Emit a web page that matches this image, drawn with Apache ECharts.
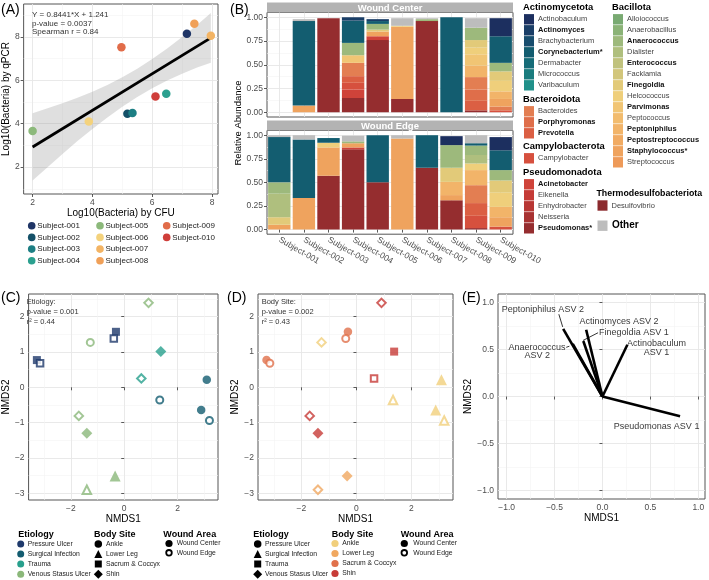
<!DOCTYPE html>
<html><head><meta charset="utf-8">
<script src="https://cdn.jsdelivr.net/npm/echarts@6.0.0/dist/echarts.min.js"></script>
<style>html,body{margin:0;padding:0;background:#fff;}#chart{width:709px;height:580px;}</style>
</head><body><div id="chart"></div>
<script>
// ================= DATA =================
// Panel A
const subjects = ['Subject-001','Subject-002','Subject-003','Subject-004','Subject-005','Subject-006','Subject-007','Subject-008','Subject-009','Subject-010'];
const subjectColors = ['#1f3566','#145068','#1d7f84','#2ba08f','#8cb97b','#f4d27c','#f3b464','#f0a058','#e16c49','#cf3e3a'];
const cfuLog  = [7.16, 5.17, 5.34, 6.47, 2.00, 3.88, 7.96, 7.41, 4.97, 6.11];
const qpcrLog = [8.15, 4.46, 4.50, 5.38, 3.66, 4.10, 8.06, 8.61, 7.53, 5.26];
const fitX = [2.00, 7.96];
const fitY = [2.93, 7.96];
const bandX     = [2.0, 2.5, 3.0, 3.5, 4.0, 4.5, 5.0, 5.5, 6.0, 6.5, 7.0, 7.5, 7.96];
const bandLower = [1.38, 1.99, 2.60, 3.20, 3.76, 4.29, 4.78, 5.23, 5.64, 5.99, 6.30, 6.59, 6.81];
const bandUpper = [4.48, 4.71, 4.94, 5.20, 5.48, 5.79, 6.14, 6.53, 6.98, 7.47, 8.00, 8.55, 9.11];
const statLines = ['Y = 0.8441*X + 1.241', 'p-value = 0.0037', 'Spearman r = 0.84'];

// Panel B — genus palette (legend order)
const genusNames  = ['Actinobaculum','Actinomyces','Brachybacterium','Corynebacterium','Dermabacter','Micrococcus','Varibaculum',
  'Bacteroides','Porphyromonas','Prevotella','Campylobacter',
  'Acinetobacter','Eikenella','Enhydrobacter','Neisseria','Pseudomonas','Desulfovibrio',
  'Alloiococcus','Anaerobacillus','Anaerococcus','Dialister','Enterococcus','Facklamia','Finegoldia','Helcococcus','Parvimonas','Peptococcus','Peptoniphilus','Peptostreptococcus','Staphylococcus','Streptococcus','Other'];
const genusColors = ['#1c2f5f','#1a3e67','#184d6e','#135d70','#166c78','#1a7c7e','#21918a',
  '#e37e52','#df6e4a','#db5f43','#d6503e',
  '#cf433a','#c53b37','#b83634','#a83232','#952d2f','#8b2a2d',
  '#79aa72','#8bb377','#9db97c','#afbf7e','#c0c27d','#d2c67b','#e2ca79','#efcf7b','#f1c574','#f2bc6e','#f2b469','#f1ab63','#efa35e','#ee9a59','#bdbdbd'];
const boldGenera = ['Actinomyces','Corynebacterium','Porphyromonas','Prevotella','Acinetobacter','Pseudomonas','Anaerococcus','Enterococcus','Finegoldia','Parvimonas','Peptoniphilus','Peptostreptococcus','Staphylococcus'];
const starredGenera = ['Corynebacterium','Pseudomonas','Staphylococcus'];
const phyla = ['Actinomycetota','Bacteroidota','Campylobacterota','Pseudomonadota','Thermodesulfobacteriota','Bacillota'];
const phylumGenera = [
  ['Actinobaculum','Actinomyces','Brachybacterium','Corynebacterium','Dermabacter','Micrococcus','Varibaculum'],
  ['Bacteroides','Porphyromonas','Prevotella'],
  ['Campylobacter'],
  ['Acinetobacter','Eikenella','Enhydrobacter','Neisseria','Pseudomonas'],
  ['Desulfovibrio'],
  ['Alloiococcus','Anaerobacillus','Anaerococcus','Dialister','Enterococcus','Facklamia','Finegoldia','Helcococcus','Parvimonas','Peptococcus','Peptoniphilus','Peptostreptococcus','Staphylococcus','Streptococcus']
];
// stacked bottom -> top; columns Subject-001..010
const barGenera = ['Pseudomonas','Acinetobacter','Campylobacter','Prevotella','Porphyromonas','Bacteroides','Staphylococcus','Peptoniphilus','Parvimonas','Helcococcus','Finegoldia','Dialister','Anaerococcus','Corynebacterium','Actinomyces','Actinobaculum','Other'];
const centerAbund = [
  [0, 0,    0.99, 0.15, 0.76, 0.14, 0.96, 0,   0.02, 0],
  [0, 0,    0,    0.09, 0.04, 0,    0,    0,   0,    0],
  [0, 0,    0,    0.07, 0,    0,    0,    0,   0,    0.02],
  [0, 0,    0,    0.07, 0,    0,    0,    0,   0.10, 0],
  [0, 0,    0,    0,    0,    0,    0,    0,   0.12, 0],
  [0, 0,    0,    0.14, 0,    0,    0,    0,   0.13, 0.04],
  [0, 0.07, 0,    0,    0.05, 0.76, 0,    0,   0,    0.08],
  [0, 0,    0,    0,    0,    0,    0,    0,   0.12, 0.08],
  [0, 0,    0,    0.08, 0,    0,    0,    0,   0.12, 0],
  [0, 0,    0,    0,    0,    0.01, 0,    0,   0.07, 0.11],
  [0, 0,    0,    0,    0.02, 0,    0,    0,   0.08, 0.10],
  [0, 0,    0,    0,    0,    0,    0,    0,   0,    0],
  [0, 0,    0,    0.13, 0.06, 0,    0.02, 0,   0.13, 0.09],
  [0, 0.89, 0,    0.235,0.03, 0,    0,    1.0, 0,    0.28],
  [0, 0,    0,    0.035,0.02, 0,    0,    0,   0,    0],
  [0, 0,    0,    0,    0,    0,    0,    0,   0,    0.19],
  [0, 0.02, 0,    0,    0,    0.08, 0.01, 0,   0.10, 0]
];
const edgeAbund = [
  [0,    0,     0.57, 0.85,  0.5, 0,     0.655, 0.31,  0.015, 0],
  [0,    0,     0,    0.02,  0,   0,     0,     0,     0,     0],
  [0,    0,     0,    0,     0,   0,     0,     0,     0.13,  0.03],
  [0,    0,     0,    0,     0,   0,     0,     0,     0.135, 0],
  [0,    0,     0,    0,     0,   0,     0,     0,     0,     0],
  [0,    0,     0,    0,     0,   0,     0,     0,     0.19,  0],
  [0.05, 0.335, 0.30, 0.045, 0,   0.965, 0,     0.055, 0,     0.10],
  [0,    0,     0,    0,     0,   0,     0,     0.14,  0.16,  0.11],
  [0,    0,     0,    0,     0,   0,     0,     0,     0,     0],
  [0,    0,     0.05, 0,     0,   0,     0,     0,     0.07,  0.15],
  [0.08, 0,     0,    0,     0,   0,     0,     0.15,  0,     0.13],
  [0.25, 0,     0,    0,     0,   0,     0,     0,     0.09,  0],
  [0.12, 0,     0,    0.02,  0,   0,     0,     0.24,  0.10,  0.11],
  [0.48, 0.62,  0.05, 0,     0.5, 0,     0.345, 0,     0.025, 0.21],
  [0,    0,     0,    0,     0,   0,     0,     0,     0,     0],
  [0,    0,     0,    0,     0,   0,     0,     0.095, 0,     0.14],
  [0.02, 0.045, 0,    0.06,  0,   0.035, 0,     0,     0.085, 0]
];
const facetNames = ['Wound Center','Wound Edge'];

// Panels C / D
const nmds1 = [0.91,-0.31,-0.39,-1.27,1.37,-3.27,-3.15,0.64,3.09,1.33,2.88,3.19,-1.70,-1.40,-0.34,-1.40];
const nmds2 = [2.39,1.57,1.38,1.27,1.01,0.77,0.68,0.25,0.21,-0.36,-0.64,-0.94,-0.81,-1.30,-2.51,-2.90];
const etiology = ['Venous Stasus Ulcer','Pressure Ulcer','Pressure Ulcer','Venous Stasus Ulcer','Trauma','Pressure Ulcer','Pressure Ulcer','Trauma','Surgical Infection','Surgical Infection','Surgical Infection','Surgical Infection','Venous Stasus Ulcer','Venous Stasus Ulcer','Venous Stasus Ulcer','Venous Stasus Ulcer'];
const bodySite = ['Shin','Sacrum & Coccyx','Sacrum & Coccyx','Ankle','Shin','Sacrum & Coccyx','Sacrum & Coccyx','Shin','Ankle','Ankle','Ankle','Ankle','Shin','Shin','Lower Leg','Lower Leg'];
const woundArea = ['Wound Edge','Wound Center','Wound Edge','Wound Edge','Wound Center','Wound Center','Wound Edge','Wound Edge','Wound Center','Wound Edge','Wound Center','Wound Edge','Wound Edge','Wound Center','Wound Center','Wound Edge'];
const etiologyNames = ['Pressure Ulcer','Surgical Infection','Trauma','Venous Stasus Ulcer'];
const etiologyColors = ['#1f3a6c','#135c70','#28a08d','#8bb87a'];
const bodySiteNames = ['Ankle','Lower Leg','Sacrum & Coccyx','Shin'];
const bodySiteColors = ['#f1cf7c','#f0a860','#e0714b','#c73b37'];
const woundAreaNames = ['Wound Center','Wound Edge'];
const statC = ['Etiology:', 'p-value = 0.001', 'r\u00b2 = 0.44'];
const statD = ['Body Site:', 'p-value = 0.002', 'r\u00b2 = 0.43'];

// Panel E
const vectorNames = ['Peptoniphilus ASV 2','Anaerococcus ASV 2','Finegoldia ASV 1','Actinomyces ASV 2','Actinobaculum ASV 1','Pseudomonas ASV 1'];
const vectorX = [-0.41, -0.31, -0.20, -0.17, 0.26, 0.81];
const vectorY = [ 0.72,  0.56,  0.59,  0.71, 0.55, -0.21];

// ================= LAYOUT / STYLE =================
const FONT = '"Liberation Sans", Arial, Helvetica, sans-serif';
const shapeSymbols = ['circle','triangle','rect','diamond'];
const eLabelLayout = [
  {text:'Peptoniphilus ASV 2', pos:[-1.05, 0.925], align:'left'},
  {text:'Actinomyces ASV 2', pos:[-0.24, 0.795], align:'left'},
  {text:'Finegoldia ASV 1', pos:[-0.035, 0.68], align:'left'},
  {text:'Actinobaculum', pos:[0.565, 0.56], align:'center'},
  {text:'ASV 1', pos:[0.565, 0.47], align:'center'},
  {text:'Anaerococcus', pos:[-0.385, 0.523], align:'right'},
  {text:'ASV 2', pos:[-0.68, 0.44], align:'center'},
  {text:'Pseudomonas ASV 1', pos:[0.565, -0.32], align:'center'}
];
const eLeaders = [
  [[-0.455, 0.875], [-0.415, 0.74]],
  [[-0.046, 0.678], [-0.203, 0.596]],
  [[-0.378, 0.523], [-0.345, 0.535]]
];

const minusFmt = d => v => (v < 0 ? '\u2212' : '') + Math.abs(v).toFixed(d);

function mainAxis(dim, gridIndex, min, max, ticks, fmt, name, nameGap, extra) {
  const a = {
    type:'value', gridIndex, min, max,
    position: dim === 'x' ? 'bottom' : 'left',
    axisLine:{show:false},
    axisTick:{show:true, length:3, lineStyle:{color:'#333', width:0.8}, customValues:ticks},
    axisLabel:{show:true, customValues:ticks, formatter:fmt, color:'#4d4d4d', fontSize:8.5, fontFamily:FONT, margin:4},
    splitLine:{show:true, lineStyle:{color:'#e6e6e6', width:0.9}}
  };
  if (name) {
    a.name = name; a.nameLocation = 'middle'; a.nameGap = nameGap;
    a.nameTextStyle = {color:'#000', fontSize: 10, fontFamily:FONT};
  }
  return Object.assign(a, extra || {});
}
function minorAxis(dim, gridIndex, min, max, ticks) {
  return {type:'value', gridIndex, min, max, position: dim === 'x' ? 'bottom' : 'left',
    axisLine:{show:false}, axisTick:{show:false, customValues:ticks},
    axisLabel:{show:false, customValues:ticks},
    splitLine:{show:true, lineStyle:{color:'#f3f3f3', width:0.6}}};
}

const gridStyle = {show:true, borderColor:'#555', borderWidth:1, backgroundColor:'transparent'};
const grids = [
  Object.assign({left:23, top:4, width:195, height:190}, gridStyle),
  Object.assign({left:267, top:12.5, width:246, height:104.5}, gridStyle),
  Object.assign({left:267, top:130.5, width:246, height:103.7}, gridStyle),
  Object.assign({left:23, top:294, width:195, height:206}, gridStyle),
  Object.assign({left:258, top:294, width:195, height:206}, gridStyle),
  Object.assign({left:498, top:294, width:207, height:205}, gridStyle)
];

const catIdx = subjects.map((s, i) => i + 1);
function catAxis(gridIndex, showLabels) {
  return {type:'category', gridIndex, data:subjects, position:'bottom',
    axisLine:{show:false},
    axisTick:{show:showLabels, alignWithLabel:true, length:3, lineStyle:{color:'#333', width:0.8}},
    axisLabel:{show:showLabels, rotate:-30, color:'#4d4d4d', fontSize:8.5, fontFamily:FONT, margin:5},
    splitLine:{show:false}};
}

const xAxes = [
  mainAxis('x', 0, 1.7, 8.2, [2,4,6,8], v => String(v), 'Log10(Bacteria) by CFU', 13),
  minorAxis('x', 0, 1.7, 8.2, [3,5,7]),
  catAxis(1, false),
  mainAxis('x', 1, 0.5, 10.5, catIdx, v => '', null, 0, {axisTick:{show:false, customValues:catIdx}, axisLabel:{show:false, customValues:catIdx}}),
  catAxis(2, true),
  mainAxis('x', 2, 0.5, 10.5, catIdx, v => '', null, 0, {axisTick:{show:false, customValues:catIdx}, axisLabel:{show:false, customValues:catIdx}}),
  mainAxis('x', 3, -3.58, 3.51, [-2,0,2], minusFmt(0), 'NMDS1', 13),
  minorAxis('x', 3, -3.58, 3.51, [-3,-1,1,3]),
  mainAxis('x', 4, -3.58, 3.51, [-2,0,2], minusFmt(0), 'NMDS1', 13),
  minorAxis('x', 4, -3.58, 3.51, [-3,-1,1,3]),
  mainAxis('x', 5, -1.09, 1.07, [-1,-0.5,0,0.5,1], minusFmt(1), 'NMDS1', 13),
  minorAxis('x', 5, -1.09, 1.07, [-0.75,-0.25,0.25,0.75])
];
const bTicks = [0, 0.25, 0.5, 0.75, 1];
const bMinor = [0.125, 0.375, 0.625, 0.875];
const yAxes = [
  mainAxis('y', 0, 0.76, 9.52, [2,4,6,8], v => String(v), 'Log10(Bacteria) by qPCR', 10),
  minorAxis('y', 0, 0.76, 9.52, [1,3,5,7,9]),
  mainAxis('y', 1, -0.05, 1.05, bTicks, v => v.toFixed(2), null, 0),
  minorAxis('y', 1, -0.05, 1.05, bMinor),
  mainAxis('y', 2, -0.05, 1.05, bTicks, v => v.toFixed(2), null, 0),
  minorAxis('y', 2, -0.05, 1.05, bMinor),
  mainAxis('y', 3, -3.19, 2.64, [-3,-2,-1,0,1,2], minusFmt(0), 'NMDS2', 12),
  minorAxis('y', 3, -3.19, 2.64, [-2.5,-1.5,-0.5,0.5,1.5,2.5]),
  mainAxis('y', 4, -3.19, 2.64, [-3,-2,-1,0,1,2], minusFmt(0), 'NMDS2', 12),
  minorAxis('y', 4, -3.19, 2.64, [-2.5,-1.5,-0.5,0.5,1.5,2.5]),
  mainAxis('y', 5, -1.09, 1.09, [-1,-0.5,0,0.5,1], minusFmt(1), 'NMDS2', 15),
  minorAxis('y', 5, -1.09, 1.09, [-0.75,-0.25,0.25,0.75])
];

// ================= SERIES =================
const series = [];
// A: confidence band
series.push({
  type:'custom', xAxisIndex:0, yAxisIndex:0, silent:true, z:2,
  data: bandX.map((x, i) => [x, bandLower[i], bandUpper[i]]),
  renderItem: (params, api) => {
    if (params.dataIndex !== 0) return null;
    const pts = [];
    for (let i = 0; i < bandX.length; i++) pts.push(api.coord([bandX[i], bandUpper[i]]));
    for (let i = bandX.length - 1; i >= 0; i--) pts.push(api.coord([bandX[i], bandLower[i]]));
    return {type:'polygon', shape:{points:pts}, style:{fill:'rgba(150,150,150,0.3)'}};
  }
});
series.push({type:'line', xAxisIndex:0, yAxisIndex:0, z:3, symbol:'none', silent:true,
  data: fitX.map((x, i) => [x, fitY[i]]), lineStyle:{color:'#000', width:2.8}});
series.push({type:'scatter', xAxisIndex:0, yAxisIndex:0, z:4, symbolSize:8.5,
  data: cfuLog.map((x, i) => ({value:[x, qpcrLog[i]], itemStyle:{color:subjectColors[i], opacity:1}}))});

// B: stacked bars
const colorOf = g => genusColors[genusNames.indexOf(g)];
barGenera.forEach((g, gi) => {
  series.push({type:'bar', name:g, xAxisIndex:2, yAxisIndex:2, stack:'center', barWidth:'91%',
    itemStyle:{color:colorOf(g)}, data:centerAbund[gi], z:3});
  series.push({type:'bar', name:g, xAxisIndex:4, yAxisIndex:4, stack:'edge', barWidth:'91%',
    itemStyle:{color:colorOf(g)}, data:edgeAbund[gi], z:3});
});

// C / D: NMDS scatter
function nmdsItems(colorByEtiology) {
  return nmds1.map((x, i) => {
    const ei = etiologyNames.indexOf(etiology[i]);
    const bi = bodySiteNames.indexOf(bodySite[i]);
    const color = colorByEtiology ? etiologyColors[ei] : bodySiteColors[bi];
    const sym = shapeSymbols[colorByEtiology ? bi : ei];
    const open = woundArea[i] === 'Wound Edge';
    const sizes = {circle:[8.5,7], rect:[8,6.5], diamond:[11,8.5], triangle:[11,8.5]};
    return {value:[x, nmds2[i]], symbol:sym, symbolSize: sizes[sym][open ? 1 : 0],
      itemStyle: open ? {color:'#fff', borderColor:color, borderWidth:2} : {color:color, borderWidth:0}};
  });
}
series.push({type:'scatter', xAxisIndex:6, yAxisIndex:6, z:4, data:nmdsItems(true)});
series.push({type:'scatter', xAxisIndex:8, yAxisIndex:8, z:4, data:nmdsItems(false)});

// E: vectors
vectorX.forEach((vx, i) => {
  series.push({type:'line', xAxisIndex:10, yAxisIndex:10, z:3, symbol:'none', silent:true,
    data:[[0, 0], [vx, vectorY[i]]], lineStyle:{color:'#000', width:2.6, cap:'butt'}});
});
eLeaders.forEach(seg => {
  series.push({type:'line', xAxisIndex:10, yAxisIndex:10, z:3, symbol:'none', silent:true,
    data:seg, lineStyle:{color:'#000', width:0.8}});
});
series.push({type:'scatter', xAxisIndex:10, yAxisIndex:10, z:5, symbol:'circle', symbolSize:1, silent:true,
  itemStyle:{color:'rgba(0,0,0,0)'},
  data: eLabelLayout.map(l => ({value:l.pos, label:{show:true, formatter:l.text, position:'inside',
    align:l.align, verticalAlign:'middle', color:'#000', fontSize:9, fontFamily:FONT}}))});

// ================= GRAPHIC (labels, legends, strips) =================
const G = [];
function txt(x, y, text, o) {
  o = o || {};
  G.push({type:'text', x:x, y:y, rotation:o.rotation || 0, silent:true, z:100,
    style:{text:text, fill:o.color || '#000', fontSize:o.size || 8, fontFamily:FONT,
      fontWeight:o.bold ? 'bold' : 'normal', align:o.align || 'left', verticalAlign:o.va || 'middle',
      textAlign:o.align || 'left', textVerticalAlign:o.va || 'middle'}});
}
function circ(cx, cy, r, fill, stroke, lw) {
  G.push({type:'circle', silent:true, z:100, shape:{cx, cy, r}, style:{fill:fill, stroke:stroke || null, lineWidth:lw || 0}});
}
function shape(sym, cx, cy, s, fill) {
  if (sym === 'circle') circ(cx, cy, s / 2, fill);
  else if (sym === 'rect') G.push({type:'rect', silent:true, z:100, shape:{x:cx - s/2, y:cy - s/2, width:s, height:s}, style:{fill}});
  else if (sym === 'triangle') G.push({type:'polygon', silent:true, z:100, shape:{points:[[cx, cy - s/2],[cx + s/2, cy + s/2],[cx - s/2, cy + s/2]]}, style:{fill}});
  else G.push({type:'polygon', silent:true, z:100, shape:{points:[[cx, cy - s/2],[cx + s/2, cy],[cx, cy + s/2],[cx - s/2, cy]]}, style:{fill}});
}

// panel tags
txt(1, 10, '(A)', {size:14});
txt(230, 10, '(B)', {size:14});
txt(1, 298, '(C)', {size:14});
txt(227, 298, '(D)', {size:14});
txt(462, 298, '(E)', {size:14});

// A stats
statLines.forEach((s, i) => txt(32, 15 + i * 8.6, s, {size:8, color:'#333'}));
// A legend
subjects.forEach((s, i) => {
  const col = Math.floor(i / 4), row = i % 4;
  const cx = [31.7, 100, 166.7][col], cy = 225.7 + row * 11.7;
  circ(cx, cy, 3.8, subjectColors[i]);
  txt(cx + 5.5, cy, s, {size:8, color:'#222'});
});

// B strips
[[2.5, 10], [120.5, 10]].forEach((st, i) => {
  G.push({type:'rect', silent:true, z:90, shape:{x:267, y:st[0], width:246, height:st[1]}, style:{fill:'#b3b3b3'}});
  txt(390, st[0] + st[1] / 2 + 0.5, facetNames[i], {size:9.5, bold:true, color:'#fff', align:'center'});
});
txt(238, 123, 'Relative Abundance', {size:9.5, rotation:Math.PI / 2, align:'center'});

// B legend
const legendCols = [
  {x:524, groups:[[0, 7.3], [1, 99.3], [2, 146.3], [3, 172.3]]},
  {x:613, groups:[[5, 7.3]]}
];
function legendGroup(x, phylumIdx, hy, hsize) {
  txt(x - 1, hy, phyla[phylumIdx], {size:hsize || 9.4, bold:true});
  phylumGenera[phylumIdx].forEach((g, k) => {
    const y = hy + 12 + k * 11;
    G.push({type:'rect', silent:true, z:100, shape:{x:x, y:y - 5.2, width:10, height:10.4}, style:{fill:colorOf(g)}});
    const label = g + (starredGenera.includes(g) ? '*' : '');
    txt(x + 14, y, label, {size:7.5, bold:boldGenera.includes(g), color: boldGenera.includes(g) ? '#111' : '#444'});
  });
}
legendCols.forEach(c => c.groups.forEach(gr => legendGroup(c.x, gr[0], gr[1])));
legendGroup(597.5, 4, 193.5, 8.8);
G.push({type:'rect', silent:true, z:100, shape:{x:597.5, y:220.5, width:10, height:10.4}, style:{fill:colorOf('Other')}});
txt(612, 225.7, 'Other', {size:10, bold:true});

// C / D stats
statC.forEach((s, i) => txt(26.7, 302.3 + i * 10, s, {size:7.5, color:'#333'}));
statD.forEach((s, i) => txt(261.7, 302.3 + i * 10, s, {size:7.5, color:'#333'}));

// C legend
const legRows = [544, 554, 564, 574.3];
txt(18.3, 534.3, 'Etiology', {size:9, bold:true});
etiologyNames.forEach((n, i) => { circ(20.7, legRows[i], 3.5, etiologyColors[i]); txt(27.7, legRows[i], n, {size:6.8, color:'#222'}); });
txt(94, 534.3, 'Body Site', {size:9, bold:true});
bodySiteNames.forEach((n, i) => { shape(shapeSymbols[i], 98.3, legRows[i], [7.5, 8, 7, 9][i], '#000'); txt(106, legRows[i], n, {size:6.8, color:'#222'}); });
txt(163.3, 534.3, 'Wound Area', {size:9, bold:true});
circ(169, 543.5, 3.6, '#000'); txt(176.7, 543.5, woundAreaNames[0], {size:6.8, color:'#222'});
circ(169, 552.8, 2.8, '#fff', '#000', 1.8); txt(176.7, 552.8, woundAreaNames[1], {size:6.8, color:'#222'});

// D legend
txt(253.3, 534.3, 'Etiology', {size:9, bold:true});
etiologyNames.forEach((n, i) => { shape(shapeSymbols[i], 257.7, legRows[i], [7.5, 8, 7, 9][i], '#000'); txt(265, legRows[i], n, {size:6.8, color:'#222'}); });
txt(331.7, 534.3, 'Body Site', {size:9, bold:true});
bodySiteNames.forEach((n, i) => { circ(335, 543.5 + i * 10, 3.6, bodySiteColors[i]); txt(342.3, 543.5 + i * 10, n, {size:6.8, color:'#222'}); });
txt(400.7, 534.3, 'Wound Area', {size:9, bold:true});
circ(404.3, 543.5, 3.6, '#000'); txt(413.3, 543.5, woundAreaNames[0], {size:6.8, color:'#222'});
circ(404.3, 552.8, 2.8, '#fff', '#000', 1.8); txt(413.3, 552.8, woundAreaNames[1], {size:6.8, color:'#222'});

// ================= RENDER =================
const chart = echarts.init(document.getElementById('chart'), null, {renderer:'canvas'});
chart.setOption({
  animation:false,
  backgroundColor:'#fff',
  textStyle:{fontFamily:FONT},
  grid:grids, xAxis:xAxes, yAxis:yAxes, series:series, graphic:{elements:G}
});
</script></body></html>
